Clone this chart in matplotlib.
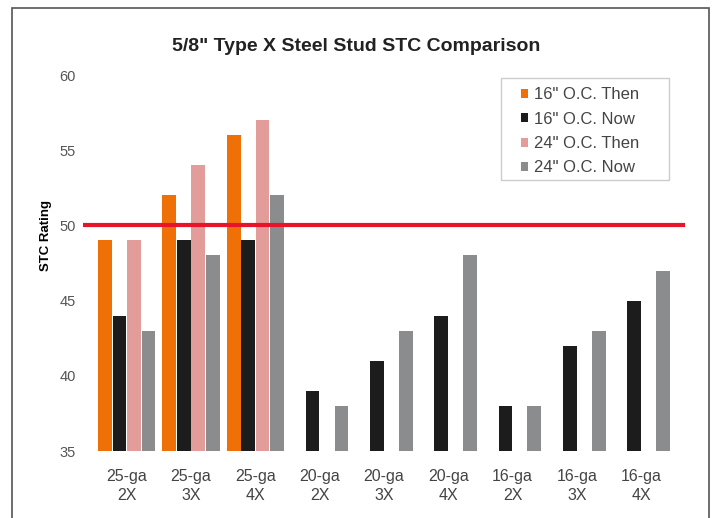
import matplotlib
matplotlib.use("Agg")
import matplotlib.pyplot as plt
import numpy as np
from matplotlib.patches import Rectangle

plt.rcParams["font.family"] = ["Liberation Sans", "DejaVu Sans"]

# data
categories = ["25-ga\n2X", "25-ga\n3X", "25-ga\n4X", "20-ga\n2X", "20-ga\n3X",
              "20-ga\n4X", "16-ga\n2X", "16-ga\n3X", "16-ga\n4X"]
oc16_then = [49, 52, 56, np.nan, np.nan, np.nan, np.nan, np.nan, np.nan]
oc16_now = [44, 49, 49, 39, 41, 44, 38, 42, 45]
oc24_then = [49, 54, 57, np.nan, np.nan, np.nan, np.nan, np.nan, np.nan]
oc24_now = [43, 48, 52, 38, 43, 48, 38, 43, 47]
series_names = ['16" O.C. Then', '16" O.C. Now', '24" O.C. Then', '24" O.C. Now']
colors = ["#F07008", "#1c1c1c", "#E29C9A", "#8a8c8e"]
threshold = 50

fig = plt.figure(figsize=(7.13, 5.18), dpi=100)
ax = fig.add_axes([0.1164, 0.1293, 0.8443, 0.7259])

x = np.arange(len(categories))
w = 0.225
for i, (vals, name, c) in enumerate(zip([oc16_then, oc16_now, oc24_then, oc24_now],
                                         series_names, colors)):
    v = np.array(vals, dtype=float)
    ax.bar(x + (i - 1.5) * w, v - 35, bottom=35, width=w * 0.95, color=c,
           label=name)

ax.axhline(threshold, color="#E8142A", lw=3, zorder=5)

ax.set_ylim(35, 60)
ax.set_xlim(-0.68, 8.68)
ax.set_yticks([35, 40, 45, 50, 55, 60])
ax.set_xticks(x)
ax.set_xticklabels(categories, fontsize=11.5, color="#444444", linespacing=1.3)
ax.tick_params(axis="x", length=0, pad=13)
ax.tick_params(axis="y", length=0, pad=5, labelsize=10.5, labelcolor="#555555")
for s in ax.spines.values():
    s.set_visible(False)

ax.set_ylabel("STC Rating", fontsize=9.5, fontweight="bold")
ax.yaxis.set_label_coords(-0.052, 0.572)
fig.text(0.5, 0.91, '5/8" Type X Steel Stud STC Comparison', ha="center",
         va="center", fontsize=14, fontweight="bold", color="#222222")

# legend box drawn separately (wide padding like the source)
ax.add_patch(Rectangle((0.694, 0.72), 0.28, 0.272, transform=ax.transAxes,
                       facecolor="white", edgecolor="#cccccc", lw=1, zorder=6))
leg = ax.legend(loc="upper left", bbox_to_anchor=(0.727, 0.967), fontsize=12,
                handlelength=0.45, handleheight=0.45, handletextpad=0.35,
                labelspacing=0.56, frameon=False, borderpad=0, borderaxespad=0)
leg.set_zorder(7)
for t in leg.get_texts():
    t.set_color("#444444")

# outer frame of the picture
fig.patches.append(Rectangle((12 / 713, -0.05), (709 - 12) / 713, 1.05 - 8 / 518,
                             transform=fig.transFigure, fill=False,
                             edgecolor="#555555", lw=1.2))

fig.savefig("out.png", dpi=100)
